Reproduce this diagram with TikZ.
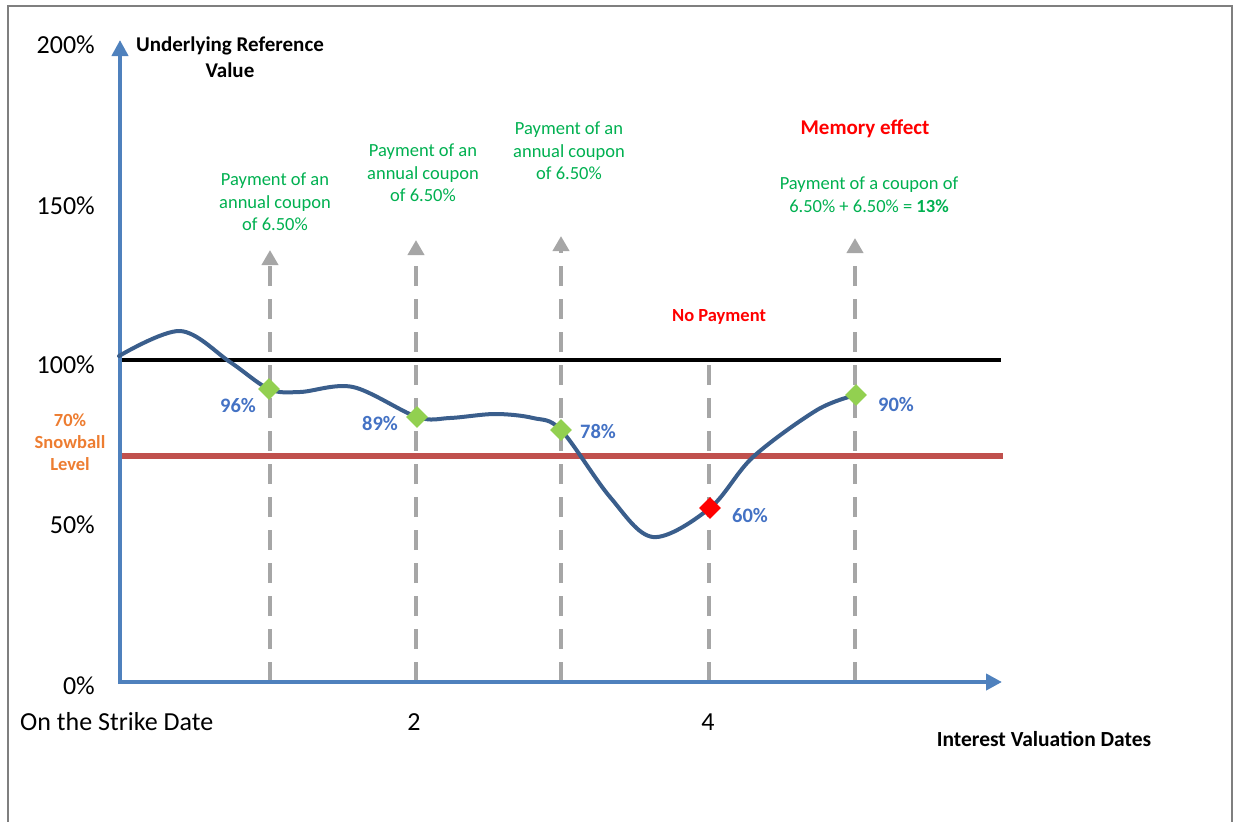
\documentclass[tikz,border=0pt]{standalone}
\usepackage{fontspec}
\setmainfont{Carlito}
\usetikzlibrary{arrows.meta,shapes.geometric}
\definecolor{axisblue}{HTML}{4F81BD}
\definecolor{curveblue}{HTML}{3A5E8C}
\definecolor{labblue}{HTML}{4472C4}
\definecolor{dgreen}{HTML}{92D050}
\definecolor{tgreen}{HTML}{00B050}
\definecolor{lorange}{HTML}{ED7D31}
\definecolor{lred}{HTML}{C0504D}
\definecolor{dgray}{HTML}{A6A6A6}
\definecolor{fgray}{HTML}{7F7F7F}
\begin{document}
\begin{tikzpicture}[x=1pt,y=-1pt,
  axisline/.style={axisblue,line width=4.5pt,-{Triangle[width=16pt,length=16pt]}},
  garrow/.style={dgray,line width=4.5pt,dash pattern=on 20pt off 13pt,-{Triangle[width=16pt,length=15pt]}},
  gline/.style={dgray,line width=4.5pt,dash pattern=on 20pt off 13pt},
  curveline/.style={curveblue,line width=4pt,line cap=round},
  gdia/.style={diamond,fill=dgreen,inner sep=0pt,minimum width=22pt,minimum height=22pt},
  rdia/.style={diamond,fill=red,inner sep=0pt,minimum width=22pt,minimum height=22pt},
  pct/.style={inner sep=0pt,font=\fontsize{20.5}{24}\selectfont\bfseries,text=labblue},
  gtext/.style={inner sep=0pt,align=center,font=\fontsize{18.5}{22.6}\selectfont,text=tgreen},
  ytick/.style={inner sep=0pt,anchor=east,font=\fontsize{26}{30}\selectfont},
  xlab/.style={inner sep=0pt,font=\fontsize{26}{30}\selectfont},
]
\useasboundingbox (0,0) rectangle (1240,822);
% frame
\draw[fgray,line width=2pt] (8,822) -- (8,6) -- (1232,6) -- (1232,822);

% dashed valuation lines
\coordinate (b1) at (270,682); \coordinate (t1) at (270,250);
\coordinate (b2) at (416,682); \coordinate (t2) at (416,240);
\coordinate (b3) at (561,682); \coordinate (t3) at (561,236);
\coordinate (b4) at (709,682); \coordinate (t4) at (709,352);
\coordinate (b5) at (855,682); \coordinate (t5) at (855,238);
\draw[garrow] (b1) -- (t1);
\draw[garrow] (b2) -- (t2);
\draw[garrow] (b3) -- (t3);
\draw[gline] (b4) -- (t4);
\draw[garrow] (b5) -- (t5);

% reference levels
\coordinate (l100a) at (120,360); \coordinate (l100b) at (1001,360);
\coordinate (l70a) at (120,456); \coordinate (l70b) at (1003,456);
\draw[lred,line width=5.5pt] (l70a) -- (l70b);
\draw[black,line width=3.5pt] (l100a) -- (l100b);

% axes
\coordinate (ys) at (120,684); \coordinate (ye) at (120,40);
\coordinate (xs) at (118,682); \coordinate (xe) at (1002,682);
\draw[axisline] (ys) -- (ye);
\draw[axisline] (xs) -- (xe);

% observation points
\coordinate (c1) at (269,389);
\coordinate (c2) at (417,417);
\coordinate (c3) at (561,430);
\coordinate (c4) at (710,508);
\coordinate (c5) at (856,395);

% curve
\draw[curveline] plot[smooth,tension=0.55] coordinates {(119,356) (180,331) (230,362) (c1) (300,392) (353,387) (c2) (450,418) (495,414) (533,418) (c3) (610,497) (653,537) (c4) (753,457) (817,410) (c5)};
\node[gdia] (d1) at (c1) {};
\node[gdia] (d2) at (c2) {};
\node[gdia] (d3) at (c3) {};
\node[rdia] (d4) at (c4) {};
\node[gdia] (d5) at (c5) {};

% percent labels
\node[pct] (p1) at (238,406) {96\%};
\node[pct] (p2) at (380,424) {89\%};
\node[pct] (p3) at (598,432) {78\%};
\node[pct] (p4) at (750,516) {60\%};
\node[pct] (p5) at (896,405) {90\%};

% y ticks
\node[ytick] (y200) at (95,45) {200\%};
\node[ytick] (y150) at (95,206) {150\%};
\node[ytick] (y100) at (95,365) {100\%};
\node[ytick] (y50) at (95,525) {50\%};
\node[ytick] (y0) at (95,686) {0\%};

% x labels
\node[xlab,anchor=west] (xl0) at (20,722) {On the Strike Date};
\node[xlab] (xl2) at (414,722) {2};
\node[xlab] (xl4) at (708,722) {4};
\node[inner sep=0pt,font=\fontsize{21.5}{26}\selectfont\bfseries] (xtitle) at (1044,739) {Interest Valuation Dates};

% axis title
\node[inner sep=0pt,align=center,font=\fontsize{21}{26}\selectfont\bfseries] (ytitle) at (230,57) {Underlying Reference\\Value};

% snowball level
\node[inner sep=0pt,align=center,text=lorange,font=\fontsize{18.5}{22}\selectfont\bfseries] (snow) at (70,442) {70\%\\Snowball\\Level};

% annotations
\node[gtext] (a1) at (275,202) {Payment of an\\annual coupon\\of 6.50\%};
\node[gtext] (a2) at (423,173) {Payment of an\\annual coupon\\of 6.50\%};
\node[gtext] (a3) at (569,151) {Payment of an\\annual coupon\\of 6.50\%};
\node[gtext] (a5) at (869,195) {Payment of a coupon of\\6.50\% + 6.50\% = \textbf{13\%}};
\node[inner sep=0pt,text=red,font=\fontsize{21}{26}\selectfont\bfseries] (mem) at (865,129) {Memory effect};
\node[inner sep=0pt,text=red,font=\fontsize{18.5}{22}\selectfont\bfseries] (nopay) at (719,317) {No Payment};
\end{tikzpicture}
\end{document}
